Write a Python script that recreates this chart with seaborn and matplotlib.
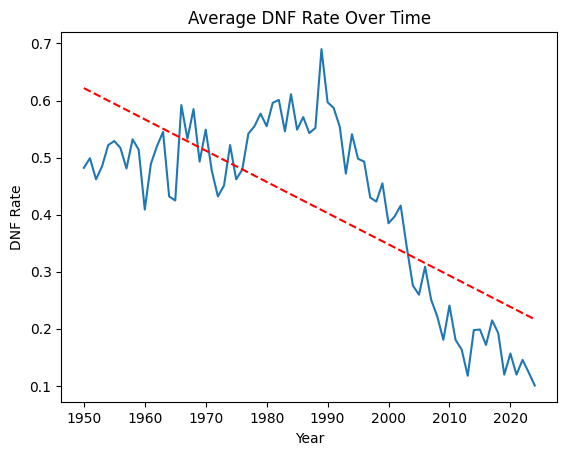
import numpy as np
import pandas as pd
import matplotlib
matplotlib.use("Agg")
import matplotlib.pyplot as plt
import seaborn as sns

years = list(range(1950, 2025))
dnf_rate = [
    0.482, 0.499, 0.462, 0.485, 0.522, 0.529, 0.517, 0.481, 0.532, 0.514,  # 1950s
    0.409, 0.489, 0.520, 0.545, 0.432, 0.425, 0.592, 0.533, 0.585, 0.493,  # 1960s
    0.549, 0.477, 0.432, 0.451, 0.522, 0.462, 0.479, 0.542, 0.555, 0.577,  # 1970s
    0.555, 0.596, 0.601, 0.546, 0.611, 0.549, 0.571, 0.543, 0.552, 0.690,  # 1980s
    0.597, 0.587, 0.554, 0.472, 0.541, 0.498, 0.493, 0.430, 0.423, 0.455,  # 1990s
    0.385, 0.397, 0.416, 0.343, 0.276, 0.260, 0.309, 0.251, 0.222, 0.181,  # 2000s
    0.241, 0.181, 0.164, 0.118, 0.198, 0.199, 0.172, 0.215, 0.193, 0.120,  # 2010s
    0.157, 0.120, 0.146, 0.124, 0.101,                                     # 2020s
]

df = pd.DataFrame({"year": years, "dnf_rate": dnf_rate})

# linear trend
coef = np.polyfit(df["year"], df["dnf_rate"], 1)
trend = np.polyval(coef, df["year"])

plt.style.use("default")
fig, ax = plt.subplots(figsize=(5.67, 4.55), dpi=100)
fig.subplots_adjust(left=0.1081, right=0.9829, top=0.929, bottom=0.1158)

sns.lineplot(data=df, x="year", y="dnf_rate", ax=ax)
ax.plot(df["year"], trend, "r--")

ax.set_title("Average DNF Rate Over Time")
ax.set_xlabel("Year")
ax.set_ylabel("DNF Rate")

fig.savefig("out.png", dpi=100)
